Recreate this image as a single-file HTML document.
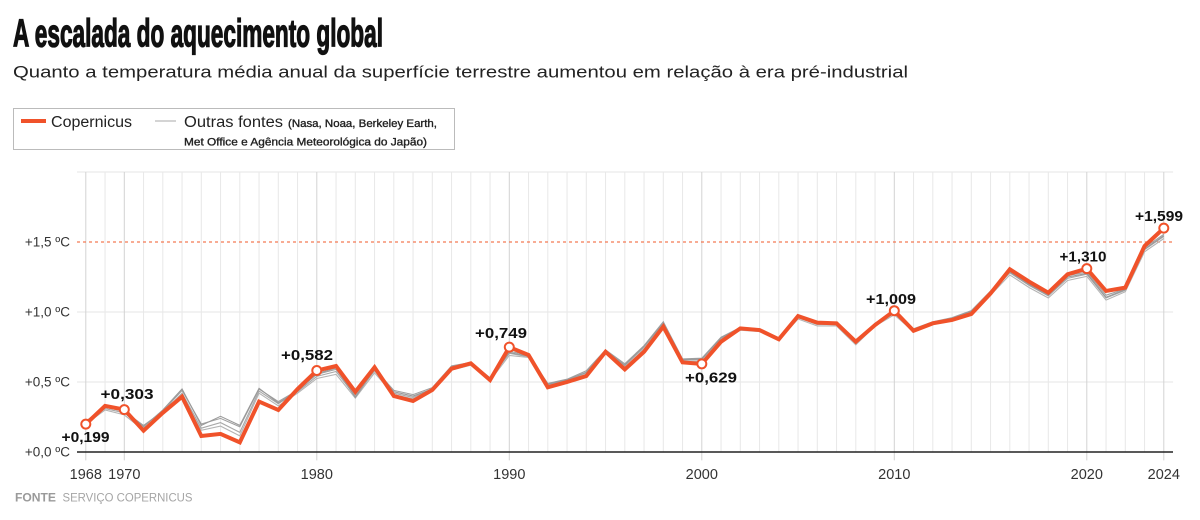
<!DOCTYPE html>
<html><head><meta charset="utf-8"><style>
html,body{margin:0;padding:0;background:#fff;}
svg{display:block;font-family:"Liberation Sans",sans-serif;}
</style></head><body>
<svg width="1200" height="520" viewBox="0 0 1200 520" xmlns="http://www.w3.org/2000/svg">
<rect width="1200" height="520" fill="#fff"/>
<text x="13" y="46.5" font-size="39" font-weight="bold" fill="#111" stroke="#111" stroke-width="1.3" textLength="370" lengthAdjust="spacingAndGlyphs">A escalada do aquecimento global</text>
<text x="13" y="77.5" font-size="17" fill="#222" textLength="895" lengthAdjust="spacingAndGlyphs">Quanto a temperatura média anual da superfície terrestre aumentou em relação à era pré-industrial</text>

<rect x="13.5" y="108.5" width="441" height="41" fill="#fff" stroke="#bbb" stroke-width="1"/>
<line x1="21" y1="121" x2="46" y2="121" stroke="#f0522a" stroke-width="4"/>
<text x="51" y="127" font-size="15.5" fill="#222" textLength="81" lengthAdjust="spacingAndGlyphs">Copernicus</text>
<line x1="155" y1="121" x2="176" y2="121" stroke="#aaa" stroke-width="1"/>
<text x="184" y="127" font-size="15.5" fill="#222" textLength="99" lengthAdjust="spacingAndGlyphs">Outras fontes</text>
<text x="288" y="127" font-size="11" fill="#222" stroke="#222" stroke-width="0.35" textLength="149" lengthAdjust="spacingAndGlyphs">(Nasa, Noaa, Berkeley Earth,</text>
<text x="184" y="145.5" font-size="11" fill="#222" stroke="#222" stroke-width="0.35" textLength="243" lengthAdjust="spacingAndGlyphs">Met Office e Agência Meteorológica do Japão)</text>

<g transform="translate(85.8,452) scale(19.25,-140)" fill="none">
 <g stroke="#e6e6e6" stroke-width="1">
  <line x1="-0.457" x2="56.48" y1="2" y2="2" vector-effect="non-scaling-stroke"/>
  <line x1="-0.457" x2="56.48" y1="1" y2="1" vector-effect="non-scaling-stroke"/>
  <line x1="-0.457" x2="56.48" y1="0.5" y2="0.5" vector-effect="non-scaling-stroke"/>
 </g>
 <g stroke="#e8e8e8" stroke-width="1">
  <line x1="1" x2="1" y1="0" y2="2" vector-effect="non-scaling-stroke"/>
  <line x1="3" x2="3" y1="0" y2="2" vector-effect="non-scaling-stroke"/>
  <line x1="4" x2="4" y1="0" y2="2" vector-effect="non-scaling-stroke"/>
  <line x1="5" x2="5" y1="0" y2="2" vector-effect="non-scaling-stroke"/>
  <line x1="6" x2="6" y1="0" y2="2" vector-effect="non-scaling-stroke"/>
  <line x1="7" x2="7" y1="0" y2="2" vector-effect="non-scaling-stroke"/>
  <line x1="8" x2="8" y1="0" y2="2" vector-effect="non-scaling-stroke"/>
  <line x1="9" x2="9" y1="0" y2="2" vector-effect="non-scaling-stroke"/>
  <line x1="10" x2="10" y1="0" y2="2" vector-effect="non-scaling-stroke"/>
  <line x1="11" x2="11" y1="0" y2="2" vector-effect="non-scaling-stroke"/>
  <line x1="13" x2="13" y1="0" y2="2" vector-effect="non-scaling-stroke"/>
  <line x1="14" x2="14" y1="0" y2="2" vector-effect="non-scaling-stroke"/>
  <line x1="15" x2="15" y1="0" y2="2" vector-effect="non-scaling-stroke"/>
  <line x1="16" x2="16" y1="0" y2="2" vector-effect="non-scaling-stroke"/>
  <line x1="17" x2="17" y1="0" y2="2" vector-effect="non-scaling-stroke"/>
  <line x1="18" x2="18" y1="0" y2="2" vector-effect="non-scaling-stroke"/>
  <line x1="19" x2="19" y1="0" y2="2" vector-effect="non-scaling-stroke"/>
  <line x1="20" x2="20" y1="0" y2="2" vector-effect="non-scaling-stroke"/>
  <line x1="21" x2="21" y1="0" y2="2" vector-effect="non-scaling-stroke"/>
  <line x1="23" x2="23" y1="0" y2="2" vector-effect="non-scaling-stroke"/>
  <line x1="24" x2="24" y1="0" y2="2" vector-effect="non-scaling-stroke"/>
  <line x1="25" x2="25" y1="0" y2="2" vector-effect="non-scaling-stroke"/>
  <line x1="26" x2="26" y1="0" y2="2" vector-effect="non-scaling-stroke"/>
  <line x1="27" x2="27" y1="0" y2="2" vector-effect="non-scaling-stroke"/>
  <line x1="28" x2="28" y1="0" y2="2" vector-effect="non-scaling-stroke"/>
  <line x1="29" x2="29" y1="0" y2="2" vector-effect="non-scaling-stroke"/>
  <line x1="30" x2="30" y1="0" y2="2" vector-effect="non-scaling-stroke"/>
  <line x1="31" x2="31" y1="0" y2="2" vector-effect="non-scaling-stroke"/>
  <line x1="33" x2="33" y1="0" y2="2" vector-effect="non-scaling-stroke"/>
  <line x1="34" x2="34" y1="0" y2="2" vector-effect="non-scaling-stroke"/>
  <line x1="35" x2="35" y1="0" y2="2" vector-effect="non-scaling-stroke"/>
  <line x1="36" x2="36" y1="0" y2="2" vector-effect="non-scaling-stroke"/>
  <line x1="37" x2="37" y1="0" y2="2" vector-effect="non-scaling-stroke"/>
  <line x1="38" x2="38" y1="0" y2="2" vector-effect="non-scaling-stroke"/>
  <line x1="39" x2="39" y1="0" y2="2" vector-effect="non-scaling-stroke"/>
  <line x1="40" x2="40" y1="0" y2="2" vector-effect="non-scaling-stroke"/>
  <line x1="41" x2="41" y1="0" y2="2" vector-effect="non-scaling-stroke"/>
  <line x1="43" x2="43" y1="0" y2="2" vector-effect="non-scaling-stroke"/>
  <line x1="44" x2="44" y1="0" y2="2" vector-effect="non-scaling-stroke"/>
  <line x1="45" x2="45" y1="0" y2="2" vector-effect="non-scaling-stroke"/>
  <line x1="46" x2="46" y1="0" y2="2" vector-effect="non-scaling-stroke"/>
  <line x1="47" x2="47" y1="0" y2="2" vector-effect="non-scaling-stroke"/>
  <line x1="48" x2="48" y1="0" y2="2" vector-effect="non-scaling-stroke"/>
  <line x1="49" x2="49" y1="0" y2="2" vector-effect="non-scaling-stroke"/>
  <line x1="50" x2="50" y1="0" y2="2" vector-effect="non-scaling-stroke"/>
  <line x1="51" x2="51" y1="0" y2="2" vector-effect="non-scaling-stroke"/>
  <line x1="53" x2="53" y1="0" y2="2" vector-effect="non-scaling-stroke"/>
  <line x1="54" x2="54" y1="0" y2="2" vector-effect="non-scaling-stroke"/>
  <line x1="55" x2="55" y1="0" y2="2" vector-effect="non-scaling-stroke"/>
 </g>
 <g stroke="#d2d2d2" stroke-width="1">
  <line x1="0" x2="0" y1="-0.06" y2="2" vector-effect="non-scaling-stroke"/>
  <line x1="2" x2="2" y1="-0.06" y2="2" vector-effect="non-scaling-stroke"/>
  <line x1="12" x2="12" y1="-0.06" y2="2" vector-effect="non-scaling-stroke"/>
  <line x1="22" x2="22" y1="-0.06" y2="2" vector-effect="non-scaling-stroke"/>
  <line x1="32" x2="32" y1="-0.06" y2="2" vector-effect="non-scaling-stroke"/>
  <line x1="42" x2="42" y1="-0.06" y2="2" vector-effect="non-scaling-stroke"/>
  <line x1="52" x2="52" y1="-0.06" y2="2" vector-effect="non-scaling-stroke"/>
  <line x1="56" x2="56" y1="-0.06" y2="2" vector-effect="non-scaling-stroke"/>
 </g>
</g>

<line x1="77" y1="242" x2="1173" y2="242" stroke="#f47a55" stroke-width="1.2" stroke-dasharray="3,3"/>
<line x1="77" y1="452" x2="1173" y2="452" stroke="#222" stroke-width="1.6"/>

<g transform="translate(85.8,452) scale(19.25,-140)" fill="none" stroke-linejoin="miter">
 <polyline stroke="#a8a8a8" stroke-width="1.1" vector-effect="non-scaling-stroke" points="0,0.21 1,0.31 2,0.28 3,0.17 4,0.28 5,0.42 6,0.17 7,0.21 8,0.14 9,0.435 10,0.345 11,0.43 12,0.54 13,0.575 14,0.40 15,0.58 16,0.42 17,0.39 18,0.45 19,0.60 20,0.63 21,0.52 22,0.705 23,0.68 24,0.48 25,0.51 26,0.565 27,0.72 28,0.615 29,0.75 30,0.915 31,0.655 32,0.66 33,0.81 34,0.88 35,0.87 36,0.805 37,0.96 38,0.91 39,0.91 40,0.775 41,0.91 42,0.99 43,0.87 44,0.92 45,0.95 46,1.0 47,1.135 48,1.28 49,1.19 50,1.115 51,1.24 52,1.27 53,1.10 54,1.155 55,1.445 56,1.54"/>
 <polyline stroke="#a0a0a0" stroke-width="1.1" vector-effect="non-scaling-stroke" points="0,0.22 1,0.32 2,0.29 3,0.19 4,0.29 5,0.44 6,0.20 7,0.24 8,0.18 9,0.45 10,0.36 11,0.44 12,0.555 13,0.59 14,0.41 15,0.595 16,0.44 17,0.41 18,0.46 19,0.615 20,0.64 21,0.53 22,0.72 23,0.69 24,0.49 25,0.52 26,0.58 27,0.73 28,0.63 29,0.76 30,0.93 31,0.665 32,0.67 33,0.82 34,0.89 35,0.88 36,0.81 37,0.97 38,0.92 39,0.92 40,0.785 41,0.92 42,1.0 43,0.88 44,0.93 45,0.96 46,1.01 47,1.15 48,1.29 49,1.20 50,1.13 51,1.26 52,1.285 53,1.12 54,1.165 55,1.46 56,1.555"/>
 <polyline stroke="#b4b4b4" stroke-width="1.1" vector-effect="non-scaling-stroke" points="0,0.20 1,0.30 2,0.265 3,0.155 4,0.27 5,0.40 6,0.155 7,0.185 8,0.115 9,0.42 10,0.33 11,0.42 12,0.525 13,0.555 14,0.385 15,0.565 16,0.41 17,0.38 18,0.44 19,0.585 20,0.62 21,0.51 22,0.69 23,0.675 24,0.47 25,0.50 26,0.555 27,0.71 28,0.60 29,0.74 30,0.90 31,0.645 32,0.65 33,0.80 34,0.87 35,0.86 36,0.80 37,0.95 38,0.90 39,0.90 40,0.765 41,0.90 42,0.98 43,0.86 44,0.91 45,0.94 46,0.99 47,1.12 48,1.265 49,1.175 50,1.10 51,1.225 52,1.255 53,1.085 54,1.145 55,1.43 56,1.525"/>
 <polyline stroke="#999" stroke-width="1.1" vector-effect="non-scaling-stroke" points="0,0.215 1,0.325 2,0.30 3,0.18 4,0.30 5,0.45 6,0.19 7,0.255 8,0.19 9,0.455 10,0.35 11,0.435 12,0.56 13,0.60 14,0.39 15,0.59 16,0.43 17,0.40 18,0.45 19,0.61 20,0.635 21,0.525 22,0.71 23,0.685 24,0.485 25,0.515 26,0.57 27,0.725 28,0.62 29,0.755 30,0.92 31,0.66 32,0.665 33,0.815 34,0.885 35,0.875 36,0.81 37,0.965 38,0.915 39,0.915 40,0.78 41,0.915 42,0.995 43,0.875 44,0.925 45,0.955 46,1.005 47,1.14 48,1.285 49,1.195 50,1.12 51,1.25 52,1.275 53,1.105 54,1.16 55,1.45 56,1.545"/>
 <polyline stroke="#f0522a" stroke-width="4" vector-effect="non-scaling-stroke" points="0,0.199 1,0.329 2,0.303 3,0.152 4,0.28 5,0.395 6,0.114 7,0.129 8,0.069 9,0.36 10,0.30 11,0.45 12,0.582 13,0.614 14,0.43 15,0.605 16,0.40 17,0.364 18,0.443 19,0.595 20,0.633 21,0.514 22,0.749 23,0.693 24,0.462 25,0.50 26,0.543 27,0.716 28,0.59 29,0.716 30,0.895 31,0.64 32,0.629 33,0.788 34,0.883 35,0.871 36,0.805 37,0.971 38,0.924 39,0.919 40,0.788 41,0.907 42,1.009 43,0.866 44,0.919 45,0.943 46,0.986 47,1.133 48,1.305 49,1.217 50,1.138 51,1.269 52,1.310 53,1.15 54,1.174 55,1.471 56,1.599"/>
</g>

<g fill="#fff" stroke="#f0522a" stroke-width="2">
 <circle cx="85.8" cy="424.1" r="4.5"/>
 <circle cx="124.3" cy="409.6" r="4.5"/>
 <circle cx="316.8" cy="370.5" r="4.5"/>
 <circle cx="509.3" cy="347.1" r="4.5"/>
 <circle cx="701.8" cy="363.9" r="4.5"/>
 <circle cx="894.3" cy="310.7" r="4.5"/>
 <circle cx="1086.8" cy="268.6" r="4.5"/>
 <circle cx="1163.8" cy="228.1" r="4.5"/>
</g>

<g font-size="14.5" font-weight="bold" fill="#111">
 <text x="61.5" y="442" textLength="48" lengthAdjust="spacingAndGlyphs">+0,199</text>
 <text x="100.5" y="399" textLength="53" lengthAdjust="spacingAndGlyphs">+0,303</text>
 <text x="281" y="360" textLength="52" lengthAdjust="spacingAndGlyphs">+0,582</text>
 <text x="475" y="338" textLength="52" lengthAdjust="spacingAndGlyphs">+0,749</text>
 <text x="685" y="382.5" textLength="52" lengthAdjust="spacingAndGlyphs">+0,629</text>
 <text x="866" y="304" textLength="50" lengthAdjust="spacingAndGlyphs">+1,009</text>
 <text x="1059.5" y="261.5" textLength="47" lengthAdjust="spacingAndGlyphs">+1,310</text>
 <text x="1135" y="221" textLength="48" lengthAdjust="spacingAndGlyphs">+1,599</text>
</g>

<g font-size="13.5" fill="#333" text-anchor="end">
 <text x="70" y="246.5">+1,5 ºC</text>
 <text x="70" y="316.5">+1,0 ºC</text>
 <text x="70" y="386.5">+0,5 ºC</text>
 <text x="70" y="456.5">+0,0 ºC</text>
</g>

<g font-size="14.5" fill="#333" text-anchor="middle">
 <text x="85.8" y="479">1968</text>
 <text x="124.3" y="479">1970</text>
 <text x="316.8" y="479">1980</text>
 <text x="509.3" y="479">1990</text>
 <text x="701.8" y="479">2000</text>
 <text x="894.3" y="479">2010</text>
 <text x="1086.8" y="479">2020</text>
 <text x="1163.8" y="479">2024</text>
</g>

<text x="15" y="501.5" font-size="11.5" font-weight="bold" fill="#9a9a9a" textLength="41" lengthAdjust="spacingAndGlyphs">FONTE</text>
<text x="62.5" y="501.5" font-size="11.5" fill="#a5a5a5" textLength="130" lengthAdjust="spacingAndGlyphs">SERVIÇO COPERNICUS</text>
</svg>
</body></html>
